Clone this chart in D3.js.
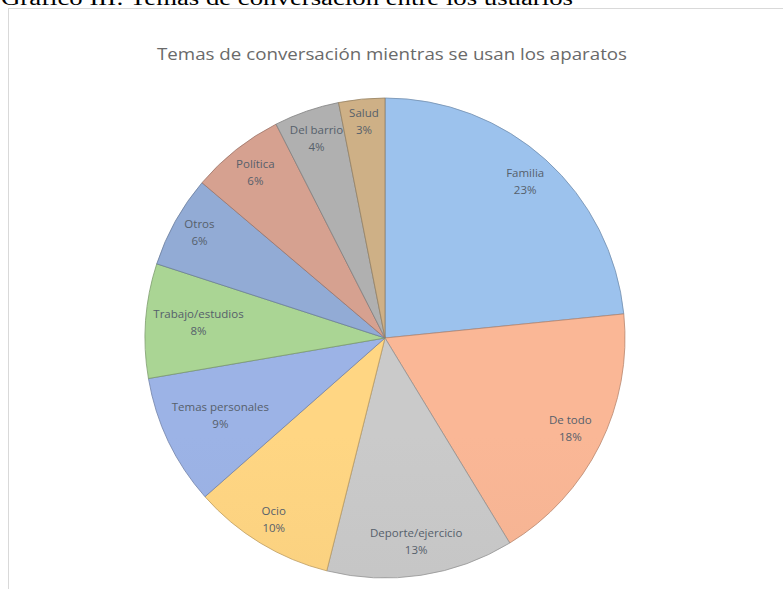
<!DOCTYPE html>
<html>
<head>
<meta charset="utf-8">
<script src="https://cdn.jsdelivr.net/npm/d3@7"></script>
<style>
  html, body { margin: 0; padding: 0; background: #fff; }
  svg { display: block; }
</style>
</head>
<body>
<div id="chart"></div>
<script>
// Chart data, clockwise from 12 o'clock
const categories = ["Familia", "De todo", "Deporte/ejercicio", "Ocio", "Temas personales",
  "Trabajo/estudios", "Otros", "Política", "Del barrio", "Salud"];
const values = [23.4, 17.9, 12.6, 9.6, 8.8, 7.7, 6.2, 6.3, 4.4, 3.1];
const colors = ["#98bde6", "#f3b292", "#c4c4c4", "#fad07f", "#98aee0",
  "#a5cf90", "#8ea6cf", "#d09c8c", "#ababab", "#c8ab82"];

const header = "Gráfico III: Temas de conversación entre los usuarios";
const title = "Temas de conversación mientras se usan los aparatos";

const width = 783, height = 589;
const cx = 385, cy = 338, R = 240;

const svg = d3.select("#chart").append("svg")
  .attr("width", width)
  .attr("height", height);

// document header, cut by the top edge as in the source page
svg.append("text")
  .attr("x", 1)
  .attr("y", 5)
  .attr("font-family", "Liberation Serif, serif")
  .attr("font-size", 20)
  .attr("fill", "#000")
  .attr("textLength", 572)
  .attr("lengthAdjust", "spacingAndGlyphs")
  .text(header);

// chart frame
svg.append("rect")
  .attr("x", 8.5).attr("y", 8.5)
  .attr("width", 800).attr("height", 600)
  .attr("fill", "#fff")
  .attr("stroke", "#d9d9d9");

svg.append("text")
  .attr("x", 392)
  .attr("y", 60)
  .attr("text-anchor", "middle")
  .attr("font-family", "Open Sans, sans-serif")
  .attr("font-size", 16)
  .attr("fill", "#6a6a6a")
  .attr("textLength", 470)
  .attr("lengthAdjust", "spacingAndGlyphs")
  .text(title);

const data = categories.map((c, i) => ({ name: c, value: values[i], color: colors[i] }));

const pie = d3.pie().sort(null).value(d => d.value);
const arcs = pie(data);
const arc = d3.arc().innerRadius(0).outerRadius(R);

// vertical gradients, a bit lighter at the top
const defs = svg.append("defs");
data.forEach((d, i) => {
  const g = defs.append("linearGradient")
    .attr("id", "grad" + i)
    .attr("gradientUnits", "userSpaceOnUse")
    .attr("x1", 0).attr("y1", cy - R)
    .attr("x2", 0).attr("y2", cy + R);
  g.append("stop").attr("offset", "0%").attr("stop-color", d3.color(d.color).brighter(0.08));
  g.append("stop").attr("offset", "100%").attr("stop-color", d3.color(d.color).darker(0.12));
});

const g = svg.append("g").attr("transform", `translate(${cx},${cy})`);

g.selectAll("path")
  .data(arcs)
  .join("path")
  .attr("d", arc)
  .attr("fill", (d, i) => `url(#grad${i})`)
  .attr("stroke", d => d3.color(d.data.color).darker(0.8))
  .attr("stroke-width", 0.8)
  .attr("stroke-linejoin", "round");

// labels at "inside end": push box outward until a corner touches the rim
const lineH = 17;
const labels = g.selectAll("g.lab")
  .data(arcs)
  .join("g")
  .attr("class", "lab")
  .attr("font-family", "Open Sans, sans-serif")
  .attr("font-size", 11.5)
  .attr("fill", "#56606b");

labels.append("text")
  .attr("class", "l1")
  .attr("text-anchor", "middle")
  .attr("y", -2)
  .text(d => d.data.name);
labels.append("text")
  .attr("text-anchor", "middle")
  .attr("y", lineH - 2)
  .text(d => Math.round(d.data.value) + "%");

labels.each(function(d) {
  const w = this.querySelector(".l1").getComputedTextLength() + 4;
  const h = lineH * 2;
  const a = (d.startAngle + d.endAngle) / 2;
  const ux = Math.sin(a), uy = -Math.cos(a);
  const pad = 4;
  let r = R;
  for (; r > 0; r -= 0.5) {
    const x = ux * r, y = uy * r;
    const ok = [[-1, -1], [1, -1], [-1, 1], [1, 1]].every(([sx, sy]) =>
      Math.hypot(x + sx * w / 2, y + sy * h / 2) <= R - pad);
    if (ok) break;
  }
  const px = ux * r, py = uy * r - h / 2 + lineH - 4;
  d3.select(this).attr("transform", `translate(${px},${py})`);
});
</script>
</body>
</html>
